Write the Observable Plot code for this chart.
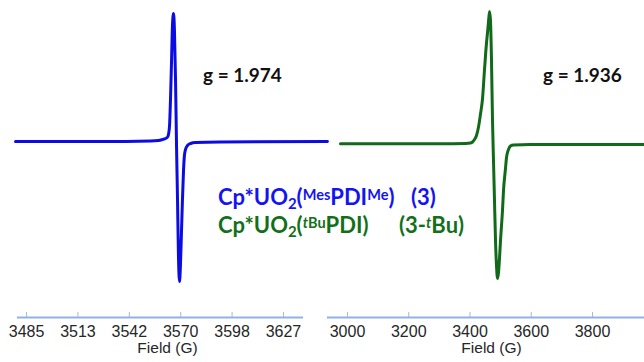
<!DOCTYPE html>
<html>
<head>
<meta charset="utf-8">
<script src="https://cdn.jsdelivr.net/npm/d3@7"></script>
<script src="https://cdn.jsdelivr.net/npm/@observablehq/plot@0.6"></script>
<style>
  html, body { margin: 0; padding: 0; background: #fff; }
  #wrap { position: relative; width: 644px; height: 362px; overflow: hidden; background: #fff; }
  #wrap svg { position: absolute; top: 0; }
  .ann { position: absolute; font-family: Lato, "Open Sans", sans-serif; font-weight: 700; white-space: nowrap; }
  .g { font-size: 19px; line-height: 19px; color: #111; }
  .lg { font-size: 22px; line-height: 22px; }
  .lg sup { font-size: 0.66em; vertical-align: 0; position: relative; top: -0.34em; }
  .lg sub { font-size: 0.68em; vertical-align: 0; position: relative; top: 0.3em; }
  .blue { color: #1414f0; }
  .green { color: #13701a; }
</style>
</head>
<body>
<div id="wrap"></div>
<script>
// ---- data: left spectrum (compound 3), field in G, derivative intensity (arb.)
const blueField = [3478.9, 3525.8, 3553.4, 3557.8, 3560.0, 3561.7, 3562.8, 3563.3, 3563.9, 3564.4, 3565.0, 3565.5, 3566.1, 3566.6, 3567.2, 3567.7, 3568.3, 3568.8, 3569.4, 3569.9, 3570.5, 3571.0, 3571.6, 3572.1, 3572.7, 3573.8, 3575.5, 3578.2, 3592.0, 3651.0];
const blueSignal = [0, 0, 0.5, 1, 2, 3, 4.5, 7, 16, 41, 81, 116, 128, 111, 61, 1, -59, -114, -140, -124, -89, -59, -29, -14, -8, -4, -2, -1, -0.5, 0];

// ---- data: right spectrum (compound 3-tBu)
const greenField = [2977.1, 3303.7, 3385.3, 3401.6, 3408.2, 3414.7, 3421.2, 3427.8, 3434.3, 3440.8, 3447.3, 3453.9, 3457.1, 3460.4, 3463.7, 3466.9, 3470.2, 3473.5, 3476.7, 3480.0, 3483.3, 3486.5, 3489.8, 3493.1, 3496.3, 3499.6, 3506.1, 3509.4, 3515.9, 3519.2, 3525.7, 3532.2, 3542.0, 3597.6, 3969.8];
const greenSignal = [0.2, 0.2, 0.5, 1, 2, 4.5, 8.5, 17, 30, 45, 74, 101, 111, 122, 132.5, 123.5, 83.5, 23.5, -16.5, -56.5, -96.5, -121.5, -134.5, -128.5, -114.5, -96.5, -66.5, -46.5, -24.5, -13.5, -5.5, -2, -1, -0.5, -0.5];

// ---- axis ticks
const leftTicks = [3485, 3513.35, 3541.7, 3570.05, 3598.4, 3626.75];
const leftTickLabels = ["3485", "3513", "3542", "3570", "3598", "3627"];
const rightTicks = [3000, 3200, 3400, 3600, 3800];
const rightTickLabels = ["3000", "3200", "3400", "3600", "3800"];
const axisLabel = "Field (G)";
const gLabels = ["g = 1.974", "g = 1.936"];

const blueData = blueField.map((f, i) => ({field: f, signal: blueSignal[i]}));
const greenData = greenField.map((f, i) => ({field: f, signal: greenSignal[i]}));

const axisBlue = "#8fb3e6";
const tickBlue = "#a9b4ea";
const textGray = "#262626";

function panel({data, color, xDomain, yDomain, ticks, labels, width, marginLeft, marginRight, labelDx}) {
  return Plot.plot({
    width, height: 362,
    marginTop: 0, marginBottom: 50, marginLeft, marginRight,
    style: {background: "transparent", maxWidth: "none", fontFamily: "'Liberation Sans', Arial, sans-serif", overflow: "visible"},
    x: {domain: xDomain},
    y: {domain: yDomain, axis: null},
    marks: [
      Plot.axisX({ticks, tickFormat: d => labels[ticks.indexOf(d)], tickSize: 5, tickPadding: 8,
                  stroke: tickBlue, color: textGray, fill: textGray, fontSize: 16, label: null}),
      Plot.ruleY([yDomain[0]], {dy: 5, stroke: axisBlue, strokeWidth: 2}),
      Plot.text([axisLabel], {text: d => d, frameAnchor: "bottom", dy: 40, dx: labelDx, fontSize: 15.5, fill: textGray}),
      Plot.line(data, {x: "field", y: "signal", stroke: color, strokeWidth: 3, curve: "monotone-x"})
    ]
  });
}

const wrap = document.getElementById("wrap");

const left = panel({data: blueData, color: "#0b0be3", xDomain: [3480.0, 3637.8], yDomain: [-171, 141],
  ticks: leftTicks, labels: leftTickLabels, width: 330, marginLeft: 17, marginRight: 27, labelDx: 7});
left.style.left = "0px";
wrap.appendChild(left);

const right = panel({data: greenData, color: "#11691a", xDomain: [2934.7, 3969.8], yDomain: [-168.5, 143.5],
  ticks: rightTicks, labels: rightTickLabels, width: 322, marginLeft: 5, marginRight: 0, labelDx: 5.5});
right.style.left = "322px";
wrap.appendChild(right);

function ann(html, cls, x, y) {
  const d = document.createElement("div");
  d.className = "ann " + cls;
  d.style.left = x + "px";
  d.style.top = y + "px";
  d.innerHTML = html;
  wrap.appendChild(d);
}
ann(gLabels[0], "g", 203, 65);
ann(gLabels[1], "g", 543, 65);
ann("Cp*UO<sub>2</sub>(<sup>Mes</sup>PDI<sup>Me</sup>)", "lg blue", 218, 186);
ann("(3)", "lg blue", 411, 186);
ann("Cp*UO<sub>2</sub>(<sup><i>t</i>Bu</sup>PDI)", "lg green", 218, 214);
ann("(3-<sup><i>t</i></sup>Bu)", "lg green", 399, 214);
</script>
</body>
</html>
